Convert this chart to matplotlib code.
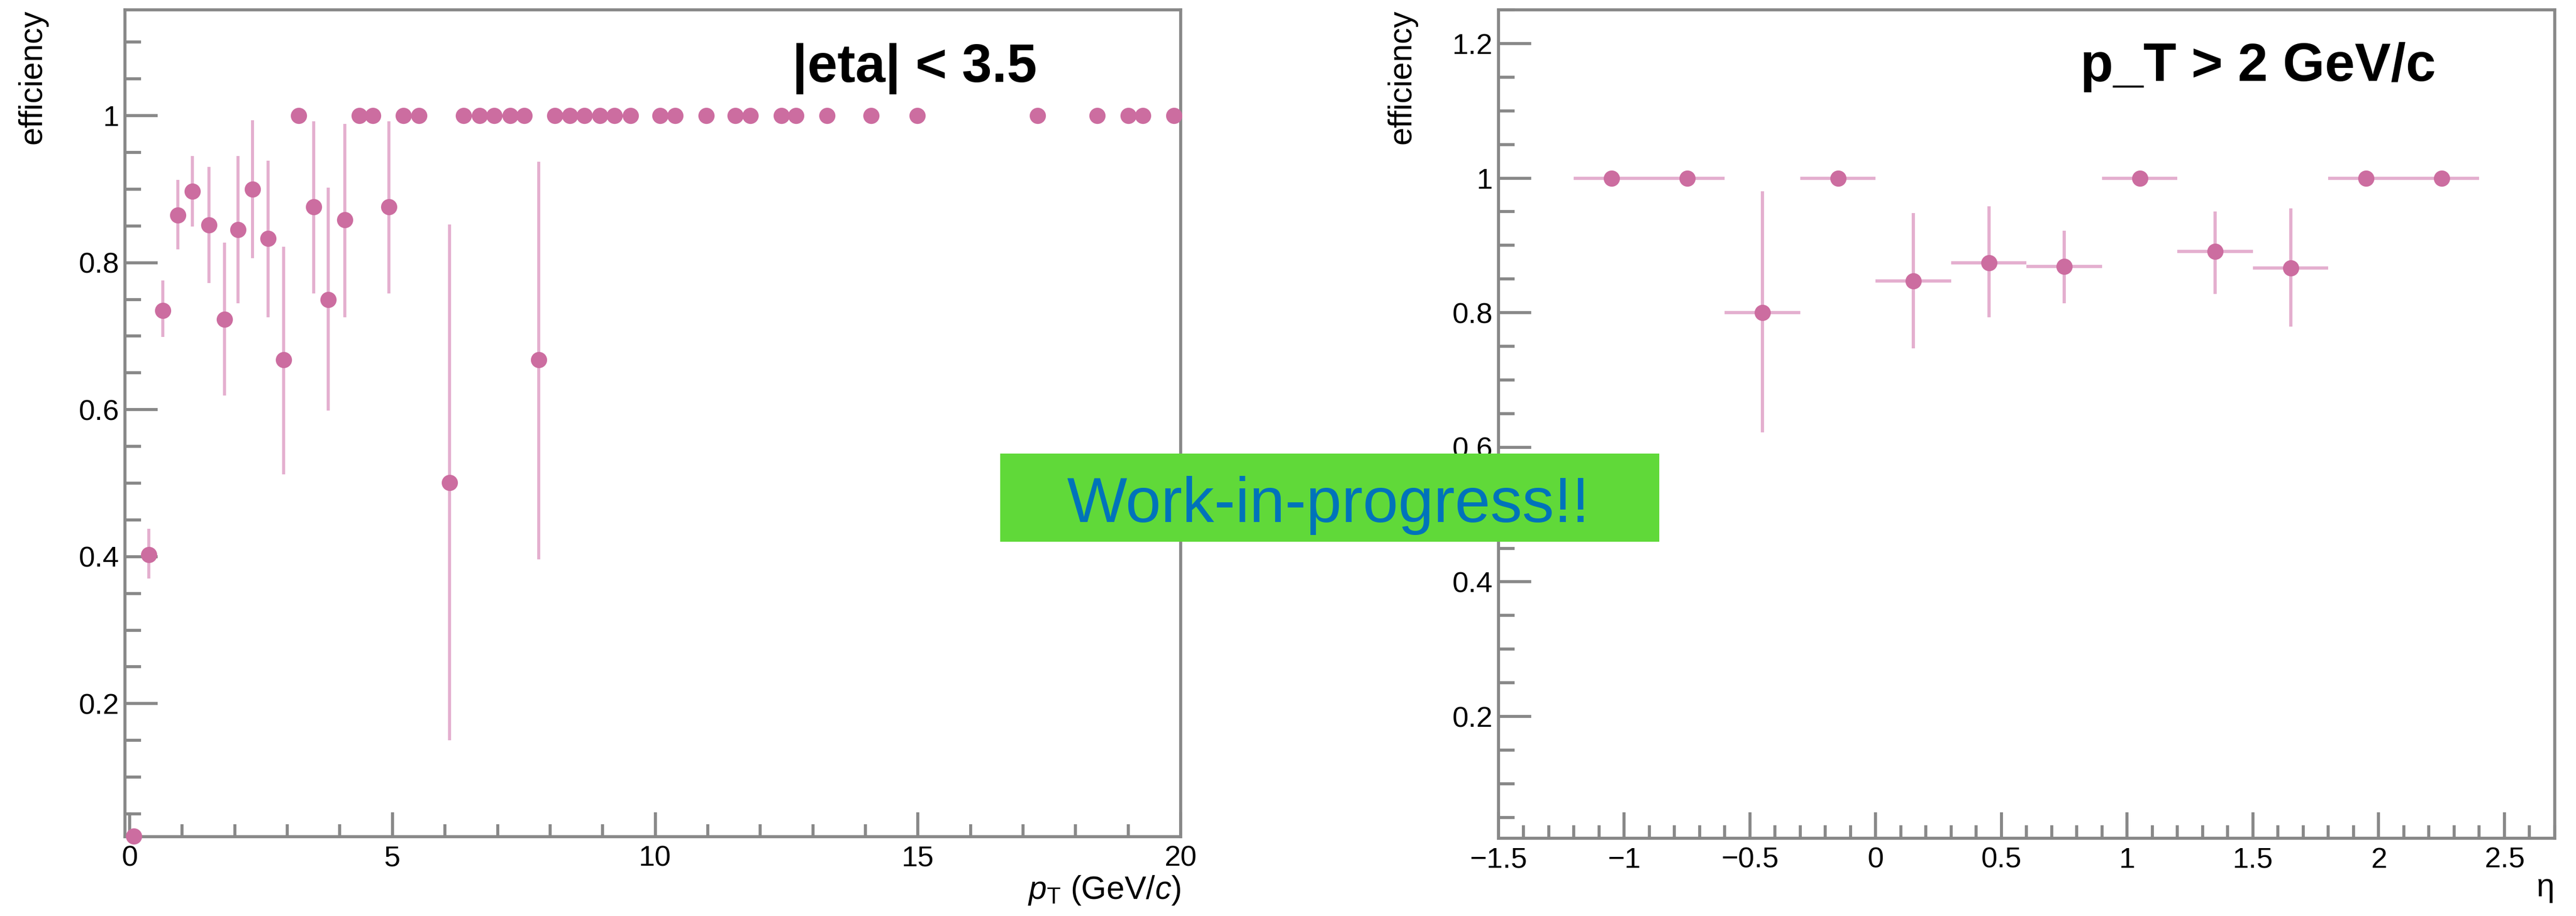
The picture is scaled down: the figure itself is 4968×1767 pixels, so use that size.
import matplotlib.pyplot as plt
import numpy as np
from matplotlib.ticker import MultipleLocator, FuncFormatter
from matplotlib.patches import Rectangle

plt.rcParams["font.family"] = ["Liberation Sans", "DejaVu Sans"]
plt.rcParams["mathtext.fontset"] = "custom"
plt.rcParams["mathtext.rm"] = "Liberation Sans"
plt.rcParams["mathtext.it"] = "Liberation Sans:italic"

# efficiency vs pT (|eta| < 3.5)
pt = [0.08, 0.365, 0.63, 0.915, 1.195, 1.51, 1.80, 2.06, 2.34, 2.63, 2.93, 3.22, 3.50, 3.78,
      4.09, 4.37, 4.63, 4.93, 5.21, 5.50, 6.09, 6.35, 6.66, 6.94, 7.24, 7.51, 7.78, 8.09,
      8.38, 8.65, 8.95, 9.22, 9.53, 10.09, 10.38, 10.97, 11.52, 11.81, 12.40, 12.68, 13.27,
      14.11, 14.99, 17.28, 18.41, 19.00, 19.28, 19.87]
eff_pt = [0.02, 0.403, 0.735, 0.865, 0.897, 0.851, 0.723, 0.845, 0.900, 0.833, 0.668, 1.0,
          0.876, 0.750, 0.858, 1.0, 1.0, 0.876, 1.0, 1.0, 0.501, 1.0, 1.0, 1.0, 1.0, 1.0,
          0.668, 1.0, 1.0, 1.0, 1.0, 1.0, 1.0, 1.0, 1.0, 1.0, 1.0, 1.0, 1.0, 1.0, 1.0,
          1.0, 1.0, 1.0, 1.0, 1.0, 1.0, 1.0]
eff_pt_lo = [0.02, 0.370, 0.699, 0.818, 0.849, 0.772, 0.619, 0.745, 0.806, 0.726, 0.512, 1.0,
             0.758, 0.599, 0.726, 1.0, 1.0, 0.758, 1.0, 1.0, 0.150, 1.0, 1.0, 1.0, 1.0, 1.0,
             0.396, 1.0, 1.0, 1.0, 1.0, 1.0, 1.0, 1.0, 1.0, 1.0, 1.0, 1.0, 1.0, 1.0, 1.0,
             1.0, 1.0, 1.0, 1.0, 1.0, 1.0, 1.0]
eff_pt_hi = [0.02, 0.438, 0.776, 0.913, 0.945, 0.930, 0.827, 0.945, 0.994, 0.939, 0.822, 1.0,
             0.992, 0.902, 0.989, 1.0, 1.0, 0.992, 1.0, 1.0, 0.852, 1.0, 1.0, 1.0, 1.0, 1.0,
             0.937, 1.0, 1.0, 1.0, 1.0, 1.0, 1.0, 1.0, 1.0, 1.0, 1.0, 1.0, 1.0, 1.0, 1.0,
             1.0, 1.0, 1.0, 1.0, 1.0, 1.0, 1.0]

# efficiency vs eta (pT > 2 GeV/c)
eta = [-1.05, -0.75, -0.45, -0.15, 0.15, 0.45, 0.75, 1.05, 1.35, 1.65, 1.95, 2.25]
eta_halfwidth = 0.15
eff_eta = [1.0, 1.0, 0.80, 1.0, 0.847, 0.874, 0.869, 1.0, 0.891, 0.866, 1.0, 1.0]
eff_eta_lo = [1.0, 1.0, 0.622, 1.0, 0.747, 0.793, 0.814, 1.0, 0.828, 0.779, 1.0, 1.0]
eff_eta_hi = [1.0, 1.0, 0.980, 1.0, 0.948, 0.958, 0.922, 1.0, 0.950, 0.955, 1.0, 1.0]

mcol = "#CC6DA0"   # marker
ecol = "#E4AFCF"   # error bars
axcol = "#888888"


def root_fmt(v, pos):
    return f"{v:g}".replace("-", "\u2212")


def style_axes(ax, xmaj, xmin, xlen, ylen):
    for s in ax.spines.values():
        s.set_color(axcol)
        s.set_linewidth(1.4)
    ax.xaxis.set_major_locator(MultipleLocator(xmaj))
    ax.xaxis.set_minor_locator(MultipleLocator(xmin))
    ax.yaxis.set_major_locator(MultipleLocator(0.2))
    ax.yaxis.set_minor_locator(MultipleLocator(0.05))
    ax.xaxis.set_major_formatter(FuncFormatter(root_fmt))
    ax.yaxis.set_major_formatter(FuncFormatter(root_fmt))
    ax.tick_params(which="both", direction="in", color=axcol, width=1.4, labelsize=13.5,
                   top=False, right=False)
    ax.tick_params(axis="x", which="major", length=xlen, pad=4)
    ax.tick_params(axis="x", which="minor", length=xlen / 2)
    ax.tick_params(axis="y", which="major", length=ylen, pad=2.6)
    ax.tick_params(axis="y", which="minor", length=ylen / 2)


fig = plt.figure(figsize=(16.56, 5.89), dpi=300)

# left panel
ax1 = fig.add_axes([0.04851, 0.08659, 0.40982, 0.90266])
y = np.array(eff_pt)
yerr = [y - np.array(eff_pt_lo), np.array(eff_pt_hi) - y]
ax1.errorbar(pt, y, yerr=yerr, fmt="none", ecolor=ecol, elinewidth=1.4, capsize=0)
ax1.plot(pt, y, "o", color=mcol, markersize=7.5, markeredgewidth=0, clip_on=False, zorder=3)
ax1.set_xlim(-0.09, 20)
ax1.set_ylim(0.019, 1.144)
style_axes(ax1, 5, 1, 11.3, 15)
ax1.set_ylabel("efficiency", fontsize=15, loc="top")
ax1.yaxis.set_label_coords(-0.073, 1.0)
ax1.set_xlabel(r"$p_{\mathrm{T}}$ (GeV/$c$)", fontsize=15, loc="right")
ax1.xaxis.set_label_coords(1.0, -0.045)
ax1.text(0.632, 0.913, "|eta| < 3.5", transform=ax1.transAxes, fontsize=25,
         fontweight="bold", ha="left", va="baseline")

# right panel
ax2 = fig.add_axes([0.58172, 0.08489, 0.41002, 0.90436])
y2 = np.array(eff_eta)
yerr2 = [y2 - np.array(eff_eta_lo), np.array(eff_eta_hi) - y2]
ax2.errorbar(eta, y2, xerr=eta_halfwidth, yerr=yerr2, fmt="none", ecolor=ecol,
             elinewidth=1.5, capsize=0)
ax2.plot(eta, y2, "o", color=mcol, markersize=7.5, markeredgewidth=0, zorder=3)
ax2.set_xlim(-1.5, 2.7)
ax2.set_ylim(0.019, 1.25)
style_axes(ax2, 0.5, 0.1, 12, 15)
ax2.set_ylabel("efficiency", fontsize=15, loc="top")
ax2.yaxis.set_label_coords(-0.077, 1.0)
ax2.set_xlabel("\u03b7", fontsize=15, loc="right")
ax2.xaxis.set_label_coords(1.0, -0.041)
ax2.text(0.551, 0.914, "p_T > 2 GeV/c", transform=ax2.transAxes, fontsize=25,
         fontweight="bold", ha="left", va="baseline")

# work-in-progress banner
fig.add_artist(Rectangle((0.3883, 0.4086), 0.2558, 0.0962, transform=fig.transFigure,
                         facecolor="#60D939", edgecolor="none", zorder=5))
fig.text(0.5157, 0.430, "Work-in-progress!!", ha="center", va="baseline", fontsize=29.5,
         color="#0073BA", zorder=6)

fig.savefig("out.png", dpi=300)
